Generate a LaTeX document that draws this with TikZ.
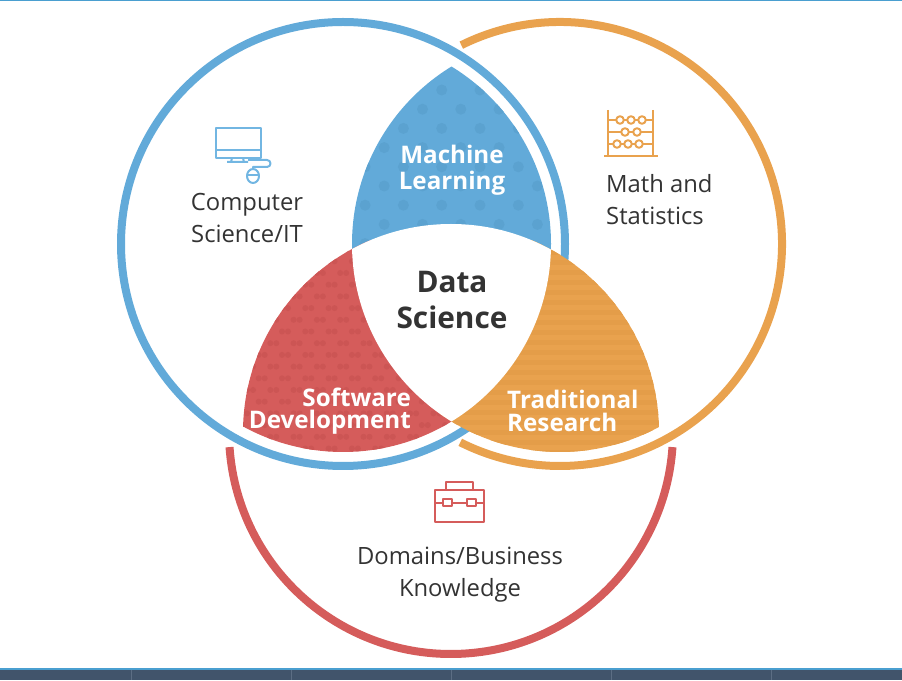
\documentclass[tikz,border=0pt]{standalone}
\usepackage{fontspec}
\setmainfont{Open Sans}
\definecolor{ringblue}{HTML}{62AAD9}
\definecolor{ringorange}{HTML}{E9A24E}
\definecolor{ringred}{HTML}{D55C5B}
\definecolor{dotblue}{HTML}{5BA2D0}
\definecolor{stripeorange}{HTML}{E49D49}
\definecolor{dotred}{HTML}{CC5554}
\definecolor{barblue}{HTML}{4A9FD0}
\definecolor{bardark}{HTML}{41546B}
\definecolor{bartick}{HTML}{5C6E84}
\definecolor{iconblue}{HTML}{72B6E2}
\definecolor{textdark}{HTML}{333333}
\begin{document}
\begin{tikzpicture}[
  x=1pt, y=1pt,
  ring/.style={line width=8pt},
  icon/.style={line width=2pt, line join=round},
  label/.style={align=center, text=textdark, inner sep=0pt, font=\fontsize{23.8}{32}\selectfont},
  seclabel/.style={text=white, inner sep=0pt}
]
  \useasboundingbox (0,0) rectangle (902,680);

  \coordinate (cblue) at (343,436);
  \coordinate (corange) at (560,436);
  \coordinate (cred) at (451,248);

  % --- top and bottom bars ---
  \fill[barblue] (0,678.5) rectangle (902,680);
  \fill[barblue] (0,10) rectangle (902,12);
  \fill[bardark] (0,0) rectangle (902,10);
  \foreach \x in {131,291,451,611,771}
    \fill[bartick] (\x-0.5,0) rectangle (\x+0.5,10);

  % --- outer rings ---
  \draw[ring, ringred] ([shift={(183.9:222)}]cred) arc (183.9:356.1:222);
  \draw[ring, ringblue] (cblue) circle (222);
  \draw[ring, ringorange] ([shift={(116.4:222)}]corange) arc (116.4:-116.7:222);

  % --- Machine Learning lens ---
  \begin{scope}
    \clip (cblue) circle (208);
    \clip (corange) circle (208);
    \fill[ringblue] (340,400) rectangle (570,630);
    \foreach \row in {0,...,9} {
      \pgfmathsetmacro{\rowy}{590-19.2*\row}
      \pgfmathsetmacro{\rowx}{mod(\row,2)==0 ? 326.8 : 345.9}
      \foreach \col in {0,...,6}
        \fill[dotblue] (\rowx+38.3*\col,\rowy) circle (5.5);
    }
  \end{scope}

  % --- Software Development lens ---
  \begin{scope}
    \clip (cblue) circle (208);
    \clip (cred) circle (208);
    \fill[ringred] (230,220) rectangle (470,440);
    \foreach \row in {0,...,18} {
      \pgfmathsetmacro{\rowy}{219.8+11.7*\row}
      \pgfmathsetmacro{\rowx}{mod(\row,2)==0 ? 226.7 : 238.4}
      \foreach \col in {0,...,10} {
        \fill[dotred] (\rowx+23.3*\col-3,\rowy) circle (3);
        \fill[dotred] (\rowx+23.3*\col+3,\rowy) circle (3);
      }
    }
  \end{scope}

  % --- Traditional Research lens ---
  \begin{scope}
    \clip (corange) circle (208);
    \clip (cred) circle (208);
    \fill[ringorange] (440,220) rectangle (670,440);
    \foreach \row in {0,...,21}
      \fill[stripeorange] (440,225+10*\row) rectangle (670,230+10*\row);
  \end{scope}

  % --- white centre ---
  \begin{scope}
    \clip (cblue) circle (208);
    \clip (corange) circle (208);
    \fill[white] (cred) circle (208);
  \end{scope}

  % --- computer icon ---
  \draw[icon, iconblue] (216,552) rectangle (261,522);
  \draw[icon, iconblue] (216,530) -- (261,530);
  \draw[icon, iconblue] (232,522) -- (231,518) (243,522) -- (244,518) (227,518) -- (248,518);
  \draw[icon, iconblue] (248,520) -- (267,520) arc (90:-90:3.5) -- (253,513) -- (253,510);
  \draw[icon, iconblue] (253,504) ellipse (6 and 7);
  \draw[icon, iconblue] (247,505) -- (259,505);

  % --- abacus icon ---
  \draw[icon, ringorange] (608,570) -- (608,525) (653,570) -- (653,525) (604,524) -- (658,524);
  \foreach \y in {560,548,536}
    \draw[icon, ringorange] (608,\y) -- (653,\y);
  \foreach \y/\xa in {560/620, 560/631, 560/642, 548/625, 548/637, 536/617, 536/628, 536/639}
    \draw[icon, ringorange, fill=white] (\xa,\y) circle (3.8);

  % --- briefcase icon ---
  \draw[icon, ringred] (435,190) rectangle (484,158);
  \draw[icon, ringred] (446,190) -- (446,198) -- (473,198) -- (473,190);
  \draw[icon, ringred] (435,177) -- (484,177);
  \draw[icon, ringred, fill=white] (443,173.5) rectangle (452,180.5);
  \draw[icon, ringred, fill=white] (467,173.5) rectangle (476,180.5);

  % --- labels ---
  \node[label] (computer) at (247,462) {Computer\\Science/IT};
  \node[label, align=left, anchor=west] (math) at (606,480) {Math and\\Statistics};
  \node[label] (domains) at (460,105) {Domains/Business\\Knowledge};

  \node[seclabel, align=center, font=\bfseries\fontsize{24.2}{26}\selectfont] (machine) at (452,509.5) {Machine\\Learning};
  \node[seclabel, align=right, anchor=east, font=\bfseries\fontsize{24.2}{22}\selectfont] (software) at (411,269) {Software\\Development};
  \node[seclabel, align=left, anchor=west, font=\bfseries\fontsize{24.2}{23}\selectfont] (research) at (507,269) {Traditional\\Research};
  \node[align=center, text=textdark, inner sep=0pt, font=\bfseries\fontsize{29.8}{36}\selectfont] (science) at (452,380) {Data\\Science};
\end{tikzpicture}
\end{document}
